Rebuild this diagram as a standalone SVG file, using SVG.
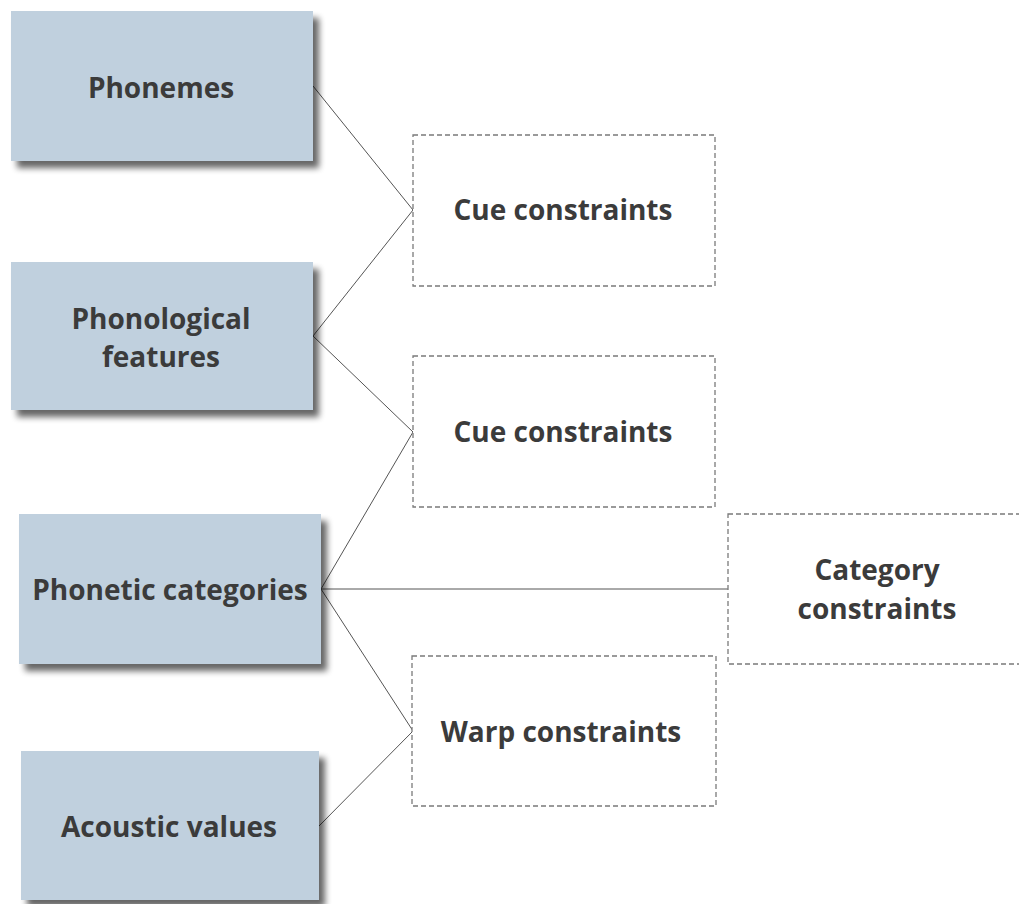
<svg xmlns="http://www.w3.org/2000/svg" width="1019" height="904" viewBox="0 0 1019 904">
<defs>
<filter id="sh" x="-10%" y="-10%" width="125%" height="130%">
<feGaussianBlur in="SourceAlpha" stdDeviation="3"/>
<feOffset dx="6" dy="7" result="b"/>
<feComponentTransfer><feFuncA type="linear" slope="0.6"/></feComponentTransfer>
<feMerge><feMergeNode/><feMergeNode in="SourceGraphic"/></feMerge>
</filter>
</defs>
<style>
.solid{fill:#c0d0de;filter:url(#sh)}
.dash{fill:#ffffff;stroke:#7a7a7a;stroke-width:1.3;stroke-dasharray:5 3}
.t{font-family:"Open Sans","Noto Sans","DejaVu Sans",sans-serif;font-weight:bold;font-size:28px;fill:#3b3b3b;text-anchor:middle}
.c{stroke:#555;stroke-width:1;fill:none}
</style>
<rect width="1019" height="904" fill="#ffffff"/>
<g id="connectors">
<line class="c" x1="313" y1="86" x2="413" y2="210"/>
<line class="c" x1="313" y1="336" x2="413" y2="210"/>
<line class="c" x1="313" y1="336" x2="413" y2="432"/>
<line class="c" x1="321" y1="589" x2="413" y2="432"/>
<line class="c" x1="321" y1="589" x2="728" y2="589"/>
<line class="c" x1="321" y1="589" x2="413" y2="731"/>
<line class="c" x1="319" y1="826" x2="413" y2="731"/>
</g>
<g id="phonemes">
<rect class="solid" x="11" y="11" width="302" height="150"/>
<text class="t" x="161" y="98">Phonemes</text>
</g>
<g id="phonological-features">
<rect class="solid" x="11" y="262" width="302" height="148"/>
<text class="t" x="161" y="329">Phonological</text>
<text class="t" x="161" y="367">features</text>
</g>
<g id="phonetic-categories">
<rect class="solid" x="19" y="514" width="302" height="150"/>
<text class="t" x="170" y="600">Phonetic categories</text>
</g>
<g id="acoustic-values">
<rect class="solid" x="21" y="751" width="298" height="149"/>
<text class="t" x="169" y="837">Acoustic values</text>
</g>
<g id="cue-constraints-1">
<rect class="dash" x="413" y="135" width="302" height="151"/>
<text class="t" x="563" y="220">Cue constraints</text>
</g>
<g id="cue-constraints-2">
<rect class="dash" x="413" y="356" width="302" height="151"/>
<text class="t" x="563" y="442">Cue constraints</text>
</g>
<g id="category-constraints">
<rect class="dash" x="728" y="514" width="300" height="150"/>
<text class="t" x="877" y="580">Category</text>
<text class="t" x="877" y="619">constraints</text>
</g>
<g id="warp-constraints">
<rect class="dash" x="412" y="656" width="304" height="150"/>
<text class="t" x="561" y="742">Warp constraints</text>
</g>
</svg>
